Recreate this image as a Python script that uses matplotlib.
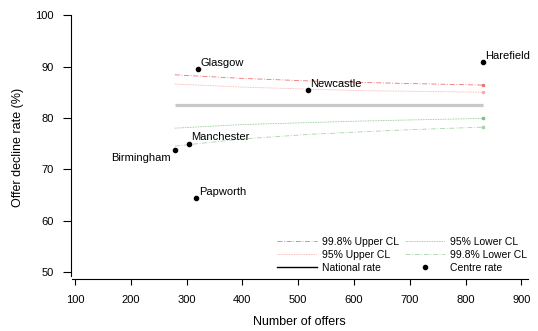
import matplotlib
matplotlib.use("Agg")
import matplotlib.pyplot as plt
from matplotlib.lines import Line2D

plt.rcParams['font.family'] = ['Liberation Sans', 'DejaVu Sans']

# centre rates
centres = ["Glasgow", "Newcastle", "Harefield", "Birmingham", "Manchester", "Papworth"]
offers = [320, 517, 831, 279, 304, 317]
decline_rate = [89.5, 85.4, 90.9, 73.7, 75.0, 64.3]

national_rate = 82.5

# funnel limits
cl_offers = [279, 400, 521, 617, 700, 831]
upper_998 = [88.4, 87.7, 87.2, 86.9, 86.7, 86.4]
upper_95 = [86.6, 86.0, 85.6, 85.3, 85.2, 85.0]
lower_95 = [78.0, 78.7, 79.1, 79.4, 79.6, 79.9]
lower_998 = [74.5, 75.9, 76.8, 77.3, 77.7, 78.2]

# (label, colour, dash style, end marker)
cl_styles = [
    ("99.8% Upper CL", "#f07070", (0, (6, 2, 1, 2)), "o"),
    ("95% Upper CL", "#f8a8a8", (0, (1, 1)), "o"),
    ("95% Lower CL", "#80c080", (0, (1, 1)), "s"),
    ("99.8% Lower CL", "#a8d4a8", (0, (6, 2, 1, 2)), "s"),
]

fig = plt.figure(figsize=(5.38, 3.31), dpi=100)
ax = fig.add_axes([71 / 538, 1 - 279 / 331, (528 - 71) / 538, (279 - 15.3) / 331])

ax.plot([cl_offers[0], cl_offers[-1]], [national_rate, national_rate],
        color="#c8c8c8", lw=2.3, solid_capstyle="butt", zorder=1)

proxies = {}
for series, (label, col, ls, mk) in zip([upper_998, upper_95, lower_95, lower_998], cl_styles):
    ax.plot(cl_offers, series, color=col, lw=0.6, ls=ls,
            marker=mk, markersize=1.5, markevery=[-1], zorder=2)
    proxies[label] = Line2D([], [], color=col, lw=0.6, ls=ls)

ax.scatter(offers, decline_rate, s=9, color="black", zorder=3)

for name, x, y in zip(centres, offers, decline_rate):
    if name == "Birmingham":
        ax.annotate(name, (x, y), xytext=(-3, -2), textcoords="offset points",
                    ha="right", va="top", fontsize=8)
    else:
        ax.annotate(name, (x, y), xytext=(2, 1), textcoords="offset points",
                    ha="left", va="bottom", fontsize=8)

ax.set_xlim(92.8, 912)
ax.set_ylim(48.6, 100)
ax.set_xticks(range(100, 901, 100))
ax.set_yticks(range(50, 101, 10))
ax.spines["top"].set_visible(False)
ax.spines["right"].set_visible(False)
ax.spines["left"].set_bounds(49.2, 100)
ax.spines["bottom"].set_bounds(94.5, 912)
ax.tick_params(axis="y", length=5.5, width=0.8, pad=7, labelsize=8)
ax.tick_params(axis="x", length=4.5, width=0.8, pad=7, labelsize=8)
ax.set_xlabel("Number of offers", fontsize=9, labelpad=8)
ax.set_ylabel("Offer decline rate (%)", fontsize=9, labelpad=8)

nat_proxy = Line2D([], [], color="black", lw=1)
centre_proxy = Line2D([], [], color="black", marker="o", ls="none", markersize=3)
ax.legend([proxies["99.8% Upper CL"], proxies["95% Upper CL"], nat_proxy,
           proxies["95% Lower CL"], proxies["99.8% Lower CL"], centre_proxy],
          ["99.8% Upper CL", "95% Upper CL", "National rate",
           "95% Lower CL", "99.8% Lower CL", "Centre rate"],
          ncol=2, frameon=False, fontsize=7.5, loc="lower right",
          bbox_to_anchor=(527 / 538, 1 - 273 / 331), bbox_transform=fig.transFigure,
          handlelength=3.8, handletextpad=0.5, columnspacing=0.6,
          labelspacing=0.3, borderpad=0, borderaxespad=0)

fig.savefig("out.png", dpi=100)
